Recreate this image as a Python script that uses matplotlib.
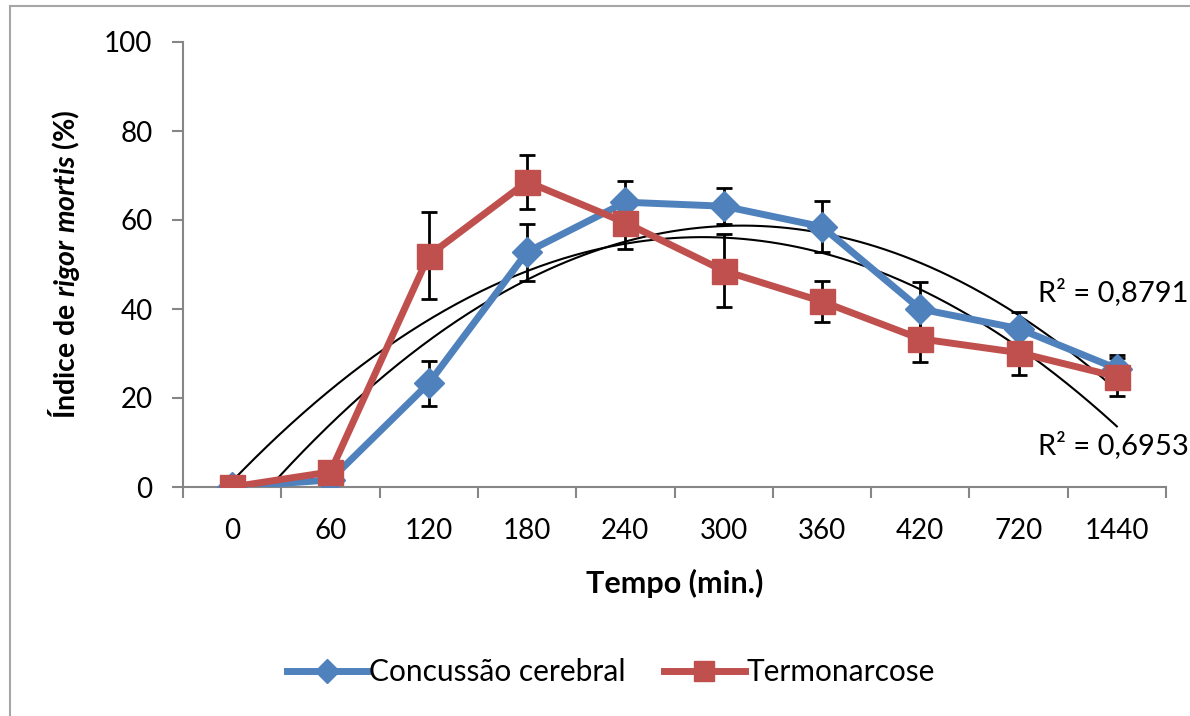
import numpy as np
import matplotlib
matplotlib.use("Agg")
import matplotlib.pyplot as plt
from matplotlib.patches import Rectangle

plt.rcParams['font.family'] = ['Lato', 'DejaVu Sans']
plt.rcParams['mathtext.fontset'] = 'custom'
plt.rcParams['mathtext.rm'] = 'Lato:bold'
plt.rcParams['mathtext.it'] = 'Lato:italic:bold'

# dados
tempos = ['0', '60', '120', '180', '240', '300', '360', '420', '720', '1440']
concussao = [0, 1.6, 23.3, 52.8, 64.0, 63.1, 58.5, 40.0, 35.6, 26.6]
concussao_err = [0, 0, 5.0, 6.4, 4.7, 4.0, 5.7, 6.1, 3.7, 3.1]
termo = [0, 3.4, 52.0, 68.6, 59.4, 48.6, 41.7, 33.3, 30.2, 24.8]
termo_err = [0, 0, 9.7, 6.1, 6.0, 8.2, 4.6, 5.3, 5.1, 4.3]
r2_labels = ['R² = 0,8791', 'R² = 0,6953']

azul = '#4F81BD'
vermelho = '#C0504D'
cinza = '#868686'

fig = plt.figure(figsize=(11.9, 7.16), dpi=100)
ax = fig.add_axes([183/1190, 1-487/716, (1166-183)/1190, (487-42)/716])

x = np.arange(len(tempos))

# linhas de tendencia polinomiais (ordem 2), como no Excel
xs = np.linspace(0, len(tempos)-1, 300)
for serie in (concussao, termo):
    coef = np.polyfit(x, serie, 2)
    ax.plot(xs, np.polyval(coef, xs), color='black', lw=1.5, zorder=2)

ax.errorbar(x, concussao, yerr=concussao_err, fmt='none', ecolor='black',
            elinewidth=2, capsize=6, capthick=2, zorder=3)
ax.errorbar(x, termo, yerr=termo_err, fmt='none', ecolor='black',
            elinewidth=2, capsize=6, capthick=2, zorder=3)

ax.plot(x, concussao, color=azul, lw=5, marker='D', markersize=15,
        label='Concussão cerebral', zorder=4)
ax.plot(x, termo, color=vermelho, lw=5, marker='s', markersize=18,
        label='Termonarcose', zorder=5)

ax.set_xlim(-0.5, len(tempos)-0.5)
ax.set_ylim(0, 100)
ax.set_yticks(range(0, 101, 20))
ax.set_xticks(x)
ax.set_xticklabels(tempos)
ax.set_xticks(np.arange(-0.5, len(tempos), 1), minor=True)
ax.tick_params(axis='x', which='major', length=0, pad=22, labelsize=20)
ax.tick_params(axis='x', which='minor', length=8, width=1.5, color=cinza, direction='out')
ax.tick_params(axis='y', length=8, width=1.5, color=cinza, direction='out', pad=14, labelsize=20)

for s in ('top', 'right'):
    ax.spines[s].set_visible(False)
for s in ('left', 'bottom'):
    ax.spines[s].set_color(cinza)
    ax.spines[s].set_linewidth(1.5)

ax.set_xlabel('Tempo (min.)', fontsize=22, fontweight='bold', labelpad=18)
ax.set_ylabel(r'Índice de $\mathit{rigor\ mortis}$ (%)', fontsize=20.5, fontweight='bold', labelpad=16)

fig.text(1113/1190, 1-292/716, r2_labels[0], fontsize=21, ha='center', va='center')
fig.text(1113/1190, 1-445/716, r2_labels[1], fontsize=21, ha='center', va='center')

fig.legend(loc='center', bbox_to_anchor=(0.513, 1-672/716), ncol=2, frameon=False,
           fontsize=21.5, handlelength=2.7, handletextpad=0.05, columnspacing=1.3,
           markerscale=0.8)

fig.patches.append(Rectangle((10/1190, -0.01), 1.0, 1-6/716+0.01, transform=fig.transFigure,
                             fill=False, edgecolor='#a6a6a6', lw=1.5))

fig.savefig('out.png', dpi=100)
